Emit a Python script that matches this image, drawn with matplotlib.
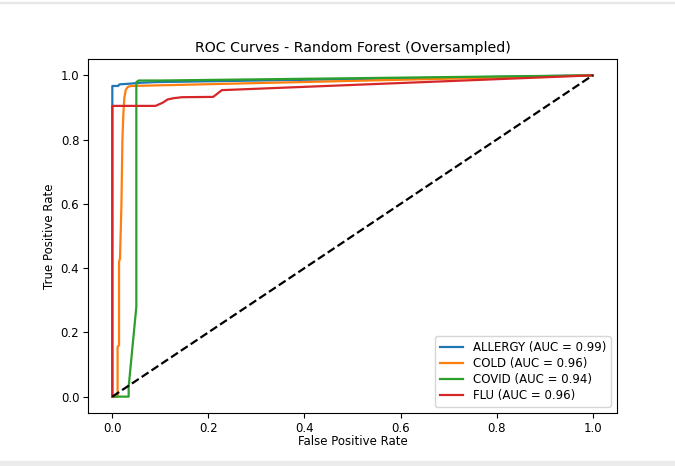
import matplotlib
matplotlib.use("Agg")
import matplotlib.pyplot as plt
from matplotlib.patches import Rectangle

title = "ROC Curves - Random Forest (Oversampled)"
classes = ["ALLERGY", "COLD", "COVID", "FLU"]
aucs = [0.99, 0.96, 0.94, 0.96]
colors = ["#1f77b4", "#ff7f0e", "#2ca02c", "#d62728"]

allergy_fpr = [0.0, 0.0, 0.0, 0.012, 0.015, 0.035, 0.06, 0.09, 1.0]
allergy_tpr = [0.0, 0.905, 0.967, 0.967, 0.972, 0.974, 0.977, 0.979, 1.0]

cold_fpr = [0.0, 0.011, 0.011, 0.014, 0.014, 0.016, 0.019, 0.021, 0.023, 0.025, 0.028, 0.033, 0.04, 1.0]
cold_tpr = [0.0, 0.0, 0.155, 0.16, 0.42, 0.43, 0.6, 0.8, 0.88, 0.93, 0.955, 0.965, 0.967, 1.0]

covid_fpr = [0.0, 0.034, 0.034, 0.05, 0.05, 0.055, 0.1, 1.0]
covid_tpr = [0.0, 0.0, 0.03, 0.28, 0.979, 0.984, 0.984, 1.0]

flu_fpr = [0.0, 0.0, 0.09, 0.105, 0.115, 0.128, 0.145, 0.21, 0.228, 1.0]
flu_tpr = [0.0, 0.905, 0.905, 0.915, 0.925, 0.929, 0.932, 0.933, 0.954, 1.0]

fprs = [allergy_fpr, cold_fpr, covid_fpr, flu_fpr]
tprs = [allergy_tpr, cold_tpr, covid_tpr, flu_tpr]

fig = plt.figure(figsize=(6.75, 4.66), dpi=100)
ax = fig.add_axes([88.3 / 675, 1 - 412.7 / 466, (616.7 - 88.3) / 675, (412.7 - 59.3) / 466])

for name, auc, c, f, t in zip(classes, aucs, colors, fprs, tprs):
    ax.plot(f, t, color=c, lw=1.6, label=f"{name} (AUC = {auc:.2f})")
ax.plot([0, 1], [0, 1], "k--", lw=1.6)

fs = 8.5
ax.set_title(title, fontsize=10.2, pad=5)
ax.set_xlabel("False Positive Rate", fontsize=fs, labelpad=0.5)
ax.set_ylabel("True Positive Rate", fontsize=fs, labelpad=3)
ax.tick_params(labelsize=fs, length=3.5, pad=3)
for s in ax.spines.values():
    s.set_linewidth(0.8)
ax.legend(loc="lower right", fontsize=fs, labelspacing=0.25, borderpad=0.4)

# screenshot frame artifacts
fig.patches.append(Rectangle((0, 1 - 3 / 466), 1, 1.2 / 466, transform=fig.transFigure,
                             color="#e6e6e6", zorder=0))
fig.patches.append(Rectangle((0, 0), 1, 5 / 466, transform=fig.transFigure,
                             color="#ececec", zorder=0))

fig.savefig("out.png", dpi=100)
